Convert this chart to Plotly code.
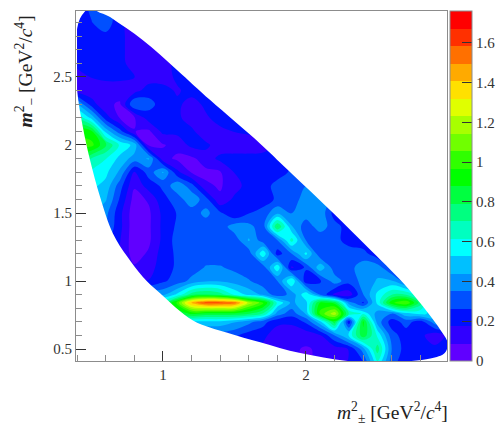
import plotly.graph_objects as go

X_GRID = [0.4,0.5,0.6,0.7,0.8,0.9,1.0,1.1,1.2,1.3,1.4,1.5,1.6,1.7,1.8,1.9,2.0,2.1,2.2,2.3,2.4,2.5,2.6,2.7,2.8,2.9,3.0]
Y_GRID = [3.0,2.9,2.8,2.7,2.6,2.5,2.4,2.3,2.2,2.1,2.0,1.9,1.8,1.7,1.6,1.5,1.4,1.3,1.2,1.1,1.0,0.9,0.84,0.76,0.7,0.6,0.5,0.4]
# density in hundredths, one row per Y_GRID entry, columns along X_GRID
Z_ROWS = [
 [22,28,30,22,13,13, 13,13,18,22,22,22,22,22,22,22, 22,22,22,22,22,22,22,22,22,22, 22],
 [22,26,32,20,12,12, 13,18,20,22,22,22,22,22,22,22, 22,22,22,22,22,22,22,22,22,22, 22],
 [22,22,24,20,13,10, 13,18,22,22,22,22,22,22,22,22, 22,22,22,22,22,22,22,22,22,22, 22],
 [22,22,22,20,13,10, 13,18,22,22,22,22,22,22,22,22, 22,22,22,22,22,22,22,22,22,22, 22],
 [20,22,22,20,14,10, 14,20,22,24,24,24,24,24,24,24, 24,24,24,24,24,24,24,24,24,24, 24],
 [14,18,20,20,18,13, 12,20,22,22,24,24,24,24,24,24, 24,24,24,24,24,24,24,24,24,24, 24],
 [13,12,12,12,14,22, 22,16,22,22,24,24,24,24,24,24, 24,24,24,24,24,24,24,24,24,24, 24],
 [45,22,10, 8,35,30, 22,20,13,20,22,24,24,24,24,24, 24,24,24,24,24,24,24,24,24,24, 24],
 [70,50,22, 8, 8,22, 20,20,12,16,22,22,24,24,24,24, 24,24,24,24,24,24,24,24,24,24, 24],
 [95,90,50,30, 9, 7, 20,20,20,10,15,18,20,22,24,24, 24,24,24,24,24,24,24,24,24,24, 24],
 [100,100,80,60,50,7, 8,12,20,20,12,10,10,12,20,22, 22,22,22,22,22,22,22,22,22,22, 22],
 [80,70,62,50,40,45, 12,7, 7,13,20,22,22,22,24,26, 26,26,26,26,26,26,26,26,26,26, 26],
 [70,60,55,42,17,30, 45,20,8, 7, 8,18,22,22,22,28, 28,28,28,28,28,28,28,28,28,28, 28],
 [60,55,50,30,10,22, 28,42,30,10,8,13,22,22,30,30, 35,30,24,24,24,24,24,24,24,24, 24],
 [55,50,45,25, 5,10, 24,30,42,30,10,20,22,22,28,30, 40,42,30,22,22,22,22,22,22,22, 22],
 [50,45,38,20, 3, 7, 20,27,30,38,28,18,26,30,42,35, 40,42,22,22,22,22,22,22,22,22, 22],
 [45,40,35,20, 3, 7, 20,28,30,30,30,40,38,30,80,45, 30,40,30,22,20,20,20,20,20,20, 20],
 [40,35,30,18, 3, 7, 20,30,30,30,30,30,45,30,35,65, 35,28,30,22,20,20,20,20,20,20, 20],
 [35,30,25,16, 5,10, 22,28,30,30,30,30,30,60,22,35, 55,28,30,32,30,20,20,20,20,20, 20],
 [30,25,20,16,10,14, 22,28,30,36,36,33,30,30,60,16, 28,50,30,32,40,40,25,20,20,20, 20],
 [30,25,20,18,18,18, 25,30,38,43,43,40,36,30,35,62, 20,25,40,30,38,45,45,30,22,20, 20],
 [40,40,40,42,42,42, 42,55,75,80,75,60,50,42,30,38, 60,35,15,12,35,55,70,70,55,25, 20],
 [70,70,70,70,70,70, 70,100,145,160,160,155,120,100,60,42, 50,90,85,40,25,55,95,105,75,30, 25],
 [80,80,80,80,80,80, 80,80,90,85,85,85,80,70,40,30, 45,100,120,70,60,40,35,50,55,50, 40],
 [50,50,50,50,50,50, 50,50,50,50,50,45,38,30,20,20, 28,50,85,20,90,40,22,30,22,40, 40],
 [30,30,30,30,30,30, 30,30,30,30,30,28,22,20,12,10, 12,17,35,55,85,60,30,22,20,12, 20],
 [20,20,20,20,20,20, 20,20,20,20,20,20,18,15,12,10, 8,10,13,18,40,75,35,22,20,20, 20],
 [20,20,20,20,20,20, 20,20,20,20,20,20,18,15,12,10, 8,10,14,18,25,60,30,20,20,20, 20],
]
# kinematic boundary of the allowed region, clockwise from the top
BOUNDARY_X = [.50,.63,.86,1.10,1.33,1.68,1.87,2.19,2.43,2.68,2.82,2.94,2.99,2.97,2.87,2.61,2.31,1.96,1.68,1.45,1.21,.98,.86,.75,.65,.56,.49,.44,.40,.39,.42,.50]
BOUNDARY_Y = [3.03,2.94,2.77,2.55,2.33,2.01,1.82,1.50,1.25,.985,.81,.64,.545,.47,.43,.405,.41,.47,.55,.62,.71,.91,1.03,1.18,1.35,1.62,1.89,2.13,2.40,2.75,2.93,3.03]
COLORS = ["#6000ff","#3000ff","#0010ff","#0050ff","#0090ff","#00c0ff","#00ffff","#00ffc0","#00ff80","#00ff40",
          "#00ff00","#30ff00","#70ff00","#a8ff00","#e0ff00","#ffe000","#ffaa00","#ff7000","#ff3000","#ff0000"]
XTICKS = [1,2]
YTICKS = [0.5,1,1.5,2,2.5]
YLABELS = ["0.5","1","1.5","2","2.5"]
CBTICKS = [0,0.2,0.4,0.6,0.8,1,1.2,1.4,1.6]
CBLABELS = ["0","0.2","0.4","0.6","0.8","1","1.2","1.4","1.6"]
ZMAX = 1.76
XRANGE = [0.392,2.986]
YRANGE = [0.412,2.985]

z = [[v/100 for v in row] for row in Z_ROWS]
n = len(COLORS)
scale = []
for i,c in enumerate(COLORS):
    scale += [[i/n,c],[(i+1)/n,c]]
FONT = "Liberation Serif"
TXT = "#333333"
AX = "#8c8c8c"

fig = go.Figure()
fig.add_trace(go.Contour(
    x=X_GRID, y=Y_GRID, z=z, zmin=0, zmax=ZMAX, colorscale=scale,
    contours=dict(coloring="fill", start=0, end=ZMAX, size=ZMAX/n, showlines=False),
    line=dict(width=0), hoverinfo="skip",
    colorbar=dict(x=1.008, xanchor="left", y=0, yanchor="bottom", len=1, thickness=22, thicknessmode="pixels",
                  xpad=0, ypad=0, outlinecolor=AX, outlinewidth=1, ticks="inside", ticklen=10,
                  tickcolor="#333333", tickwidth=1, tickmode="array", tickvals=CBTICKS, ticktext=CBLABELS,
                  tickfont=dict(family=FONT,size=15,color=TXT)),
))
# white cover outside the allowed region: far rectangle counter-clockwise, boundary clockwise, smoothed
x0,x1,y0,y1 = -2,5,-2,6
mx = [BOUNDARY_X[0],x0,x0,x1,x1,BOUNDARY_X[0]] + BOUNDARY_X
my = [y1,y1,y0,y0,y1,y1] + BOUNDARY_Y
fig.add_trace(go.Scatter(x=mx,y=my,mode="lines",line=dict(width=0,color="white",shape="spline",smoothing=1),
                         fill="toself",fillcolor="white",hoverinfo="skip",showlegend=False))
axis = dict(showgrid=False, zeroline=False, showline=True, linecolor=AX, linewidth=1, mirror=True,
            ticks="inside", ticklen=10, tickcolor="#333333", tickwidth=1,
            tickfont=dict(family=FONT,size=15,color=TXT))
fig.update_xaxes(range=XRANGE, tickmode="array", tickvals=XTICKS, ticktext=["1","2"],
                 minor=dict(ticks="inside", ticklen=6, tickcolor=AX, dtick=0.2, tick0=0), **axis)
fig.update_yaxes(range=YRANGE, tickmode="array", tickvals=YTICKS, ticktext=YLABELS,
                 minor=dict(ticks="inside", ticklen=6, tickcolor=AX, dtick=0.1, tick0=0), **axis)
fig.add_annotation(xref="paper",yref="paper",x=1,y=0,xanchor="right",yanchor="top",yshift=-36,xshift=3,showarrow=False,
    text="<i>m</i><sup>2</sup><sub>±</sub> [GeV<sup>2</sup>/<i>c</i><sup>4</sup>]",
    font=dict(family=FONT,size=19.5,color="#222222"))
fig.add_annotation(xref="paper",yref="paper",x=0,y=1,xanchor="right",yanchor="top",xshift=-36,yshift=-3,showarrow=False,textangle=-90,
    text="<i><b>m</b></i><sup>2</sup><sub>−</sub> [GeV<sup>2</sup>/<i>c</i><sup>4</sup>]",
    font=dict(family=FONT,size=19.5,color="#222222"))
fig.update_layout(width=497,height=423,margin=dict(l=76,r=50,t=11,b=62,autoexpand=False),paper_bgcolor="white",plot_bgcolor="white",showlegend=False)
fig.write_html("out.html", config=dict(displayModeBar=False), post_script="document.body.style.margin='0';document.body.style.overflow='hidden';")
